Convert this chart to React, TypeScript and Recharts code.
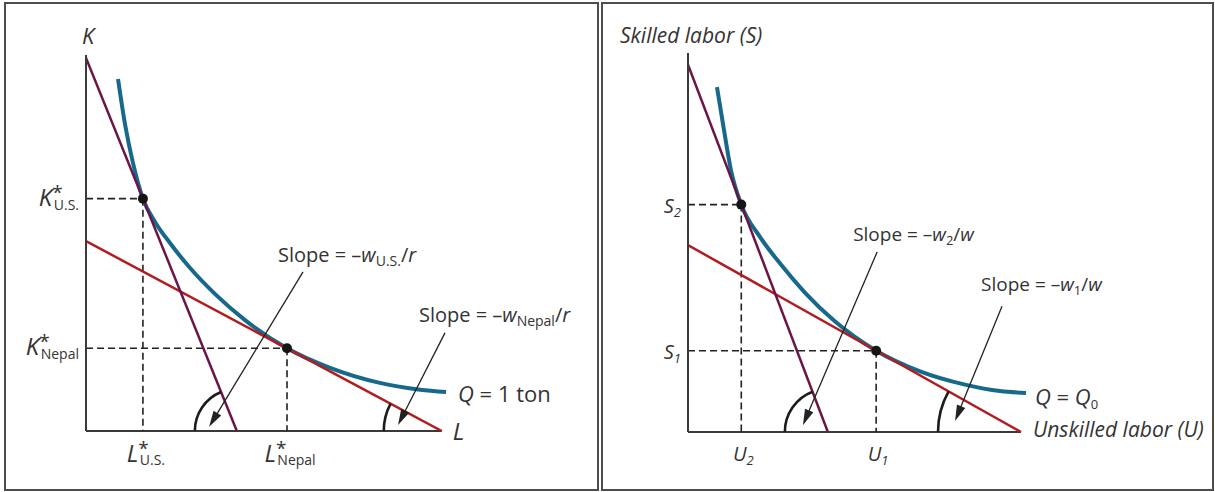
import React from 'react';
import { ComposedChart, Line, Scatter, XAxis, YAxis, ReferenceLine, ReferenceDot } from 'recharts';

const FONT = "'Open Sans', 'Noto Sans', sans-serif";
const INK = '#333333';
const AXIS = '#3a3a3a';
const ISOQUANT = '#17698c';
const STEEP = '#6d1446';
const FLAT = '#b11c1f';

type Pt = { x: number; y: number };

// ---- Left panel: capital (K) against labour (L) ----
const usBudget: Pt[] = [{ x: 0, y: 9.92 }, { x: 4.24, y: 0 }];
const nepalBudget: Pt[] = [{ x: 0, y: 5.05 }, { x: 10, y: 0 }];
const tonIsoquant: Pt[] = [
  { x: 0.9, y: 9.36 },
  { x: 1.1, y: 8.14 },
  { x: 1.32, y: 7.13 },
  { x: 1.6, y: 6.18 },
  { x: 1.94, y: 5.56 },
  { x: 2.36, y: 5.0 },
  { x: 2.92, y: 4.34 },
  { x: 3.63, y: 3.64 },
  { x: 4.47, y: 2.95 },
  { x: 5.65, y: 2.2 },
  { x: 6.86, y: 1.68 },
  { x: 8.26, y: 1.28 },
  { x: 9.39, y: 1.1 },
  { x: 10.12, y: 1.04 },
];
const kOptima: Pt[] = [{ x: 1.6, y: 6.18 }, { x: 5.65, y: 2.2 }];
const kXTicks = [1.6, 5.65];
const kXTickSubs = ['U.S.', 'Nepal'];
const kYTicks = [6.18, 2.2];
const kYTickSubs = ['U.S.', 'Nepal'];
const kArrows = [
  { from: { x: 6.1, y: 4.23 }, to: { x: 3.46, y: 0.11 } },
  { from: { x: 10.09, y: 2.61 }, to: { x: 8.77, y: 0.16 } },
];
const kSlopeSubs = ['U.S.', 'Nepal'];

// ---- Right panel: skilled (S) against unskilled (U) labour ----
const w2Budget: Pt[] = [{ x: 0, y: 9.69 }, { x: 4.2, y: 0 }];
const w1Budget: Pt[] = [{ x: 0, y: 4.93 }, { x: 10, y: 0 }];
const q0Isoquant: Pt[] = [
  { x: 0.87, y: 9.1 },
  { x: 1.08, y: 7.97 },
  { x: 1.29, y: 6.91 },
  { x: 1.6, y: 6.0 },
  { x: 2.16, y: 5.15 },
  { x: 2.76, y: 4.45 },
  { x: 3.51, y: 3.68 },
  { x: 4.41, y: 2.92 },
  { x: 5.65, y: 2.145 },
  { x: 6.97, y: 1.6 },
  { x: 8.32, y: 1.25 },
  { x: 9.37, y: 1.08 },
  { x: 10.15, y: 1.03 },
];
const sOptima: Pt[] = [{ x: 1.6, y: 6.0 }, { x: 5.65, y: 2.145 }];
const sXTicks = [1.6, 5.65];
const sXTickSubs = ['2', '1'];
const sYTicks = [6.0, 2.145];
const sYTickSubs = ['2', '1'];
const sArrows = [
  { from: { x: 5.68, y: 4.75 }, to: { x: 3.45, y: 0.18 } },
  { from: { x: 9.43, y: 3.32 }, to: { x: 8.02, y: 0.29 } },
];
const sSlopeSubs = ['2', '1'];

// ---- shared shapes ----
const ArrowShape = (props: any) => {
  const { x1, y1, x2, y2 } = props;
  const dx = x2 - x1;
  const dy = y2 - y1;
  const len = Math.hypot(dx, dy) || 1;
  const ux = dx / len;
  const uy = dy / len;
  const head = 16;
  const half = 4.5;
  const bx = x2 - ux * head;
  const by = y2 - uy * head;
  return (
    <g>
      <line x1={x1} y1={y1} x2={bx + ux * 2} y2={by + uy * 2} stroke="#222" strokeWidth={1.3} />
      <polygon
        points={`${x2},${y2} ${bx - uy * half},${by + ux * half} ${bx + uy * half},${by - ux * half}`}
        fill="#222"
      />
    </g>
  );
};

// angle mark: arc centred on the first point, from the axis up to the line
const makeArc = (r: number) => (props: any) => {
  const { x1, y1, x2, y2 } = props;
  const len = Math.hypot(x2 - x1, y2 - y1) || 1;
  const ex = x1 + (r * (x2 - x1)) / len;
  const ey = y1 + (r * (y2 - y1)) / len;
  return (
    <path d={`M ${x1 - r} ${y1} A ${r} ${r} 0 0 1 ${ex} ${ey}`} fill="none" stroke="#1c1c1c" strokeWidth={2.6} />
  );
};

const DotShape = (p: any) => <circle cx={p.cx} cy={p.cy} r={5} fill="#151515" />;

const txt = { fontFamily: FONT, fill: INK } as const;

// ---- tick renderers ----
const starredYTick = (ticks: number[], subs: string[], main: string) => (props: any) => {
  const { x, y, payload } = props;
  const sub = subs[ticks.indexOf(payload.value)];
  return (
    <text x={x - 7} y={y} textAnchor="end" {...txt}>
      <tspan fontStyle="italic" fontSize={24} dy={7}>{main}</tspan>
      <tspan fontSize={19} dy={-7}>*</tspan>
      <tspan fontSize={14} dx={-9} dy={11}>{sub}</tspan>
    </text>
  );
};

const starredXTick = (ticks: number[], subs: string[], main: string) => (props: any) => {
  const { x, y, payload } = props;
  const sub = subs[ticks.indexOf(payload.value)];
  return (
    <text x={x + 3} y={y} textAnchor="middle" {...txt}>
      <tspan fontStyle="italic" fontSize={24} dy={31}>{main}</tspan>
      <tspan fontSize={19} dy={-7}>*</tspan>
      <tspan fontSize={14} dx={-9} dy={10}>{sub}</tspan>
    </text>
  );
};

const indexedYTick = (ticks: number[], subs: string[], main: string) => (props: any) => {
  const { x, y, payload } = props;
  const sub = subs[ticks.indexOf(payload.value)];
  return (
    <text x={x - 7} y={y} textAnchor="end" {...txt}>
      <tspan fontStyle="italic" fontSize={20} dy={8}>{main}</tspan>
      <tspan fontStyle="italic" fontSize={13} dy={4}>{sub}</tspan>
    </text>
  );
};

const indexedXTick = (ticks: number[], subs: string[], main: string) => (props: any) => {
  const { x, y, payload } = props;
  const sub = subs[ticks.indexOf(payload.value)];
  return (
    <text x={x + 2} y={y} textAnchor="middle" {...txt}>
      <tspan fontStyle="italic" fontSize={20} dy={29}>{main}</tspan>
      <tspan fontStyle="italic" fontSize={13} dy={4}>{sub}</tspan>
    </text>
  );
};

// text placed at a data point with a pixel nudge
const at = (dx: number, dy: number, content: React.ReactNode, size = 20, italic = false) => (p: any) => (
  <text x={p.cx + dx} y={p.cy + dy} fontSize={size} fontStyle={italic ? 'italic' : 'normal'} {...txt}>
    {content}
  </text>
);

interface PanelProps {
  width: number;
  height: number;
  margin: { top: number; right: number; bottom: number; left: number };
  xMax: number;
  steep: Pt[];
  flat: Pt[];
  curve: Pt[];
  optima: Pt[];
  xTicks: number[];
  yTicks: number[];
  xTick: (p: any) => React.ReactElement;
  yTick: (p: any) => React.ReactElement;
  arrows: { from: Pt; to: Pt }[];
  arrowLabels: ((p: any) => React.ReactElement)[];
  arcRadii: [number, number];
  yTitle: (p: any) => React.ReactElement;
  xTitle: (p: any) => React.ReactElement;
  curveLabel: (p: any) => React.ReactElement;
}

const Panel = (props: PanelProps) => {
  const { steep, flat, curve, optima } = props;
  const end = curve[curve.length - 1];
  return (
    <ComposedChart width={props.width} height={props.height} margin={props.margin}>
      <XAxis
        type="number"
        dataKey="x"
        domain={[0, props.xMax]}
        allowDataOverflow
        ticks={props.xTicks}
        interval={0}
        tick={props.xTick}
        tickLine={false}
        axisLine={false}
        tickSize={0}
        tickMargin={0}
        height={1}
      />
      <YAxis
        type="number"
        dataKey="y"
        domain={[0, 10]}
        allowDataOverflow
        ticks={props.yTicks}
        interval={0}
        tick={props.yTick}
        tickLine={false}
        axisLine={{ stroke: AXIS, strokeWidth: 2 }}
        tickSize={0}
        tickMargin={0}
        width={1}
      />
      <ReferenceLine
        segment={[{ x: 0, y: 0 }, { x: flat[1].x, y: 0 }]}
        stroke={AXIS}
        strokeWidth={2}
        ifOverflow="visible"
      />
      {optima.map((o, i) => (
        <ReferenceLine
          key={`h${i}`}
          segment={[{ x: 0, y: o.y }, { x: o.x, y: o.y }]}
          stroke="#222"
          strokeWidth={1.6}
          strokeDasharray="7 4"
          ifOverflow="visible"
        />
      ))}
      {optima.map((o, i) => (
        <ReferenceLine
          key={`v${i}`}
          segment={[{ x: o.x, y: o.y }, { x: o.x, y: 0 }]}
          stroke="#222"
          strokeWidth={1.6}
          strokeDasharray="7 4"
          ifOverflow="visible"
        />
      ))}
      <Line data={curve} dataKey="y" type="monotone" stroke={ISOQUANT} strokeWidth={4} dot={false} activeDot={false} isAnimationActive={false} />
      <Line data={flat} dataKey="y" type="linear" stroke={FLAT} strokeWidth={2.5} dot={false} activeDot={false} isAnimationActive={false} />
      <Line data={steep} dataKey="y" type="linear" stroke={STEEP} strokeWidth={2.5} dot={false} activeDot={false} isAnimationActive={false} />
      <ReferenceLine segment={[steep[1], steep[0]]} shape={makeArc(props.arcRadii[0])} ifOverflow="visible" />
      <ReferenceLine segment={[flat[1], flat[0]]} shape={makeArc(props.arcRadii[1])} ifOverflow="visible" />
      {props.arrows.map((a, i) => (
        <ReferenceLine key={`a${i}`} segment={[a.from, a.to]} shape={ArrowShape} ifOverflow="visible" />
      ))}
      <Scatter data={optima} dataKey="y" shape={DotShape} isAnimationActive={false} />
      {props.arrows.map((a, i) => (
        <ReferenceDot key={`l${i}`} x={a.from.x} y={a.from.y} r={0} shape={props.arrowLabels[i]} ifOverflow="visible" />
      ))}
      <ReferenceDot x={0} y={10} r={0} shape={props.yTitle} ifOverflow="visible" />
      <ReferenceDot x={flat[1].x} y={0} r={0} shape={props.xTitle} ifOverflow="visible" />
      <ReferenceDot x={end.x} y={end.y} r={0} shape={props.curveLabel} ifOverflow="visible" />
    </ComposedChart>
  );
};

const slopeLabel = (sub: string, denom: string, subSize: number) => (
  <>
    <tspan>Slope = –</tspan>
    <tspan fontStyle="italic">w</tspan>
    <tspan fontSize={subSize} dy={4}>{sub}</tspan>
    <tspan dy={-4}>/</tspan>
    <tspan fontStyle="italic">{denom}</tspan>
  </>
);

export default function App() {
  return (
    <div style={{ position: 'absolute', left: 0, top: 0, width: 1215, height: 492, background: '#fff', overflow: 'hidden' }}>
      <div style={{ position: 'absolute', left: 4, top: 2, width: 595, height: 489, border: '2px solid #4d4d4d', boxSizing: 'border-box' }} />
      <div style={{ position: 'absolute', left: 601, top: 2, width: 613, height: 489, border: '2px solid #4d4d4d', boxSizing: 'border-box' }} />
      <div style={{ position: 'absolute', left: 0, top: 0 }}>
        <Panel
          width={600}
          height={492}
          margin={{ top: 55, left: 85, right: 144, bottom: 60 }}
          xMax={10.4}
          steep={usBudget}
          flat={nepalBudget}
          curve={tonIsoquant}
          optima={kOptima}
          xTicks={kXTicks}
          yTicks={kYTicks}
          xTick={starredXTick(kXTicks, kXTickSubs, 'L')}
          yTick={starredYTick(kYTicks, kYTickSubs, 'K')}
          arrows={kArrows}
          arrowLabels={[
            at(-25, -10, slopeLabel(kSlopeSubs[0], 'r', 14), 20),
            at(-26, -11, slopeLabel(kSlopeSubs[1], 'r', 14), 20),
          ]}
          arcRadii={[42, 58]}
          yTitle={at(-4, -11, 'K', 22, true)}
          xTitle={at(11, 9, 'L', 24, true)}
          curveLabel={at(12, 10, <><tspan fontStyle="italic">Q</tspan> = 1 ton</>, 22)}
        />
      </div>
      <div style={{ position: 'absolute', left: 600, top: 0 }}>
        <Panel
          width={615}
          height={492}
          margin={{ top: 53, left: 87, right: 180.68, bottom: 59 }}
          xMax={10.4}
          steep={w2Budget}
          flat={w1Budget}
          curve={q0Isoquant}
          optima={sOptima}
          xTicks={sXTicks}
          yTicks={sYTicks}
          xTick={indexedXTick(sXTicks, sXTickSubs, 'U')}
          yTick={indexedYTick(sYTicks, sYTickSubs, 'S')}
          arrows={sArrows}
          arrowLabels={[
            at(-24, -11, slopeLabel(sSlopeSubs[0], 'w', 13), 19),
            at(-21, -15, slopeLabel(sSlopeSubs[1], 'w', 13), 19),
          ]}
          arcRadii={[43, 83]}
          yTitle={at(-68, -10, 'Skilled labor (S)', 21, true)}
          xTitle={at(12, 5, 'Unskilled labor (U)', 21, true)}
          curveLabel={at(9, 12, <><tspan fontStyle="italic">Q</tspan> = <tspan fontStyle="italic">Q</tspan><tspan fontSize={13} dy={4}>0</tspan></>, 22)}
        />
      </div>
    </div>
  );
}
